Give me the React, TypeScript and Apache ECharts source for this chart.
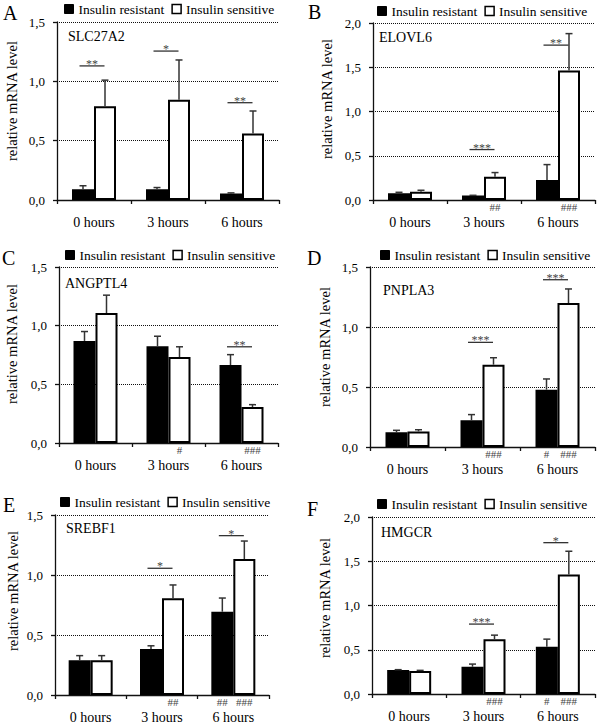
import React, { useEffect, useRef } from "react";
import * as echarts from "echarts";

const categories = ["0 hours", "3 hours", "6 hours"];
const legendNames = ["Insulin resistant", "Insulin sensitive"];
const panelLetters = ["A", "B", "C", "D", "E", "F"];
const geneNames = ["SLC27A2", "ELOVL6", "ANGPTL4", "PNPLA3", "SREBF1", "HMGCR"];
const yMaxes = [1.5, 2.0, 1.5, 1.5, 1.5, 2.0];
const yTickInterval = 0.5;

// means and upper error magnitudes per panel (A..F), per time point
const resistantMeans = [
  [0.09, 0.09, 0.055],
  [0.075, 0.05, 0.225],
  [0.87, 0.824, 0.665],
  [0.122, 0.222, 0.478],
  [0.29, 0.383, 0.694],
  [0.27, 0.308, 0.534],
];
const resistantErrors = [
  [0.03, 0.015, 0.005],
  [0.012, 0.003, 0.175],
  [0.08, 0.086, 0.088],
  [0.017, 0.048, 0.089],
  [0.038, 0.027, 0.114],
  [0.005, 0.03, 0.086],
];
const sensitiveMeans = [
  [0.79, 0.845, 0.56],
  [0.094, 0.264, 1.464],
  [1.108, 0.733, 0.307],
  [0.13, 0.686, 1.2],
  [0.29, 0.806, 1.133],
  [0.259, 0.62, 1.35],
];
const sensitiveErrors = [
  [0.22, 0.335, 0.19],
  [0.016, 0.046, 0.416],
  [0.152, 0.087, 0.02],
  [0.014, 0.058, 0.117],
  [0.038, 0.111, 0.15],
  [0.008, 0.045, 0.263],
];
// significance bars: [category index, bar height, stars]
const significance: [number, number, string][][] = [
  [[0, 1.13, "**"], [1, 1.255, "*"], [2, 0.82, "**"]],
  [[1, 0.57, "***"], [2, 1.75, "**"]],
  [[2, 0.82, "**"]],
  [[1, 0.872, "***"], [2, 1.394, "***"]],
  [[1, 1.056, "*"], [2, 1.328, "*"]],
  [[1, 0.79, "***"], [2, 1.71, "*"]],
];
// hash marks under bars: [category index, group (-1 resistant, 1 sensitive), text]
const hashMarks: [number, number, string][][] = [
  [],
  [[1, 1, "##"], [2, 1, "###"]],
  [[1, 1, "#"], [2, 1, "###"]],
  [[1, 1, "###"], [2, -1, "#"], [2, 1, "###"]],
  [[1, 1, "##"], [2, -1, "##"], [2, 1, "###"]],
  [[1, 1, "###"], [2, -1, "#"], [2, 1, "###"]],
];

// layout (pixels)
const layout = [
  { grid: [57, 22, 222, 178], legend: [64, 2], letter: [3, 12.5], gene: [68, 36], yname: [12, 101] },
  { grid: [373, 23, 222, 177], legend: [377, 4], letter: [308, 11.5], gene: [379, 37], yname: [327, 99] },
  { grid: [59, 267, 219, 176], legend: [65, 248], letter: [2, 258], gene: [65, 283], yname: [12, 344] },
  { grid: [370, 267, 225, 180], legend: [380, 248], letter: [307, 258], gene: [383, 290], yname: [325, 347] },
  { grid: [55, 515, 214, 180], legend: [60, 495], letter: [3, 505], gene: [66, 528], yname: [13, 591] },
  { grid: [372, 517, 223, 177], legend: [377, 497], letter: [307, 509], gene: [381, 532], yname: [325, 598] },
];

const FONT = "Liberation Serif";
const BAR_W = 22;
const CAP = 3.5;

function fmt(v: number) {
  return v.toFixed(1).replace(".", ",");
}

function buildOption() {
  const grid: any[] = [];
  const xAxis: any[] = [];
  const yAxis: any[] = [];
  const legend: any[] = [];
  const series: any[] = [];
  const graphic: any[] = [];

  layout.forEach((L, i) => {
    grid.push({ left: L.grid[0], top: L.grid[1], width: L.grid[2], height: L.grid[3], containLabel: false });
    xAxis.push({
      gridIndex: i,
      type: "category",
      data: categories,
      axisLine: { show: true, lineStyle: { color: "#111", width: 1.3 } },
      axisTick: { show: true, length: 4, lineStyle: { color: "#111", width: 1.3 } },
      axisLabel: { color: "#000", fontFamily: FONT, fontSize: 14, margin: 15 },
      splitLine: { show: false },
    });
    yAxis.push({
      gridIndex: i,
      type: "value",
      min: 0,
      max: yMaxes[i],
      interval: yTickInterval,
      axisLine: { show: true, lineStyle: { color: "#111", width: 1.3 } },
      axisTick: { show: true, length: 4, lineStyle: { color: "#111", width: 1.3 } },
      axisLabel: { color: "#000", fontFamily: FONT, fontSize: 13, margin: 12, formatter: (v: number) => fmt(v) },
      splitLine: { show: true, lineStyle: { color: "#111", type: "dotted", width: 1 } },
    });
    legend.push({
      left: L.legend[0],
      top: L.legend[1],
      padding: 0,
      itemWidth: 9,
      itemHeight: 9,
      itemGap: 7,
      selectedMode: false,
      textStyle: { fontFamily: FONT, fontSize: 13.5, color: "#000" },
      data: [
        { name: legendNames[0], icon: "rect", itemStyle: { color: "#000", borderColor: "#000", borderWidth: 1 } },
        { name: legendNames[1], icon: "rect", itemStyle: { color: "#fff", borderColor: "#000", borderWidth: 1.5 } },
      ],
    });
    series.push({
      name: legendNames[0],
      type: "bar",
      xAxisIndex: i,
      yAxisIndex: i,
      barWidth: BAR_W,
      barGap: "0%",
      data: resistantMeans[i],
      itemStyle: { color: "#000", borderColor: "#000", borderWidth: 2 },
    });
    series.push({
      name: legendNames[1],
      type: "bar",
      xAxisIndex: i,
      yAxisIndex: i,
      barWidth: BAR_W,
      barGap: "0%",
      data: sensitiveMeans[i],
      itemStyle: { color: "#fff", borderColor: "#000", borderWidth: 2 },
    });
    const errData: number[][] = [];
    for (let c = 0; c < categories.length; c++) {
      errData.push([c, resistantMeans[i][c], resistantErrors[i][c], -1]);
      errData.push([c, sensitiveMeans[i][c], sensitiveErrors[i][c], 1]);
    }
    series.push({
      type: "custom",
      xAxisIndex: i,
      yAxisIndex: i,
      clip: false,
      z: 5,
      encode: { x: 0, y: 1 },
      data: errData,
      renderItem: (params: any, api: any) => {
        const cat = api.value(0);
        const mean = api.value(1);
        const err = api.value(2);
        const side = api.value(3);
        const base = api.coord([cat, mean]);
        const top = api.coord([cat, mean + err]);
        const x = base[0] + (side * BAR_W) / 2;
        return {
          type: "group",
          children: [
            { type: "line", shape: { x1: x, y1: base[1], x2: x, y2: top[1] }, style: { stroke: "#333", lineWidth: 1.5 } },
            { type: "line", shape: { x1: x - CAP, y1: top[1], x2: x + CAP, y2: top[1] }, style: { stroke: "#333", lineWidth: 1.5 } },
          ],
        };
      },
    });
    const sig = significance[i];
    series.push({
      type: "custom",
      xAxisIndex: i,
      yAxisIndex: i,
      clip: false,
      z: 6,
      encode: { x: 0, y: 1 },
      data: sig.map((s) => [s[0], s[1]]),
      renderItem: (params: any, api: any) => {
        const p = api.coord([api.value(0), api.value(1)]);
        const cx = p[0] - 2;
        const half = 12.5;
        return {
          type: "group",
          children: [
            { type: "line", shape: { x1: cx - half, y1: p[1], x2: cx + half, y2: p[1] }, style: { stroke: "#333", lineWidth: 1.3 } },
            {
              type: "text",
              x: cx,
              y: p[1] + 4,
              style: { text: sig[params.dataIndex][2], fontFamily: FONT, fontSize: 12, fill: "#444", align: "center", verticalAlign: "bottom" },
            },
          ],
        };
      },
    });
    const hm = hashMarks[i];
    if (hm.length) {
      series.push({
        type: "custom",
        xAxisIndex: i,
        yAxisIndex: i,
        clip: false,
        z: 6,
        encode: { x: 0, y: 1 },
        data: hm.map((h) => [h[0], 0]),
        renderItem: (params: any, api: any) => {
          const p = api.coord([api.value(0), 0]);
          const h = hm[params.dataIndex];
          return {
            type: "text",
            x: p[0] + (h[1] * BAR_W) / 2,
            y: p[1] + 7,
            style: { text: h[2], fontFamily: FONT, fontSize: 11, fill: "#444", align: "center", verticalAlign: "middle" },
          };
        },
      });
    }
    graphic.push({
      type: "text",
      x: L.letter[0],
      y: L.letter[1],
      style: { text: panelLetters[i], fontFamily: FONT, fontSize: 20, fill: "#000", align: "left", verticalAlign: "middle", textAlign: "left", textVerticalAlign: "middle" },
    });
    graphic.push({
      type: "text",
      x: L.gene[0],
      y: L.gene[1],
      style: { text: geneNames[i], fontFamily: FONT, fontSize: 14, fill: "#000", align: "left", verticalAlign: "middle", textAlign: "left", textVerticalAlign: "middle" },
    });
    graphic.push({
      type: "text",
      x: L.yname[0],
      y: L.yname[1],
      rotation: Math.PI / 2,
      style: { text: "relative mRNA level", fontFamily: FONT, fontSize: 14.5, fill: "#000", align: "center", verticalAlign: "middle", textAlign: "center", textVerticalAlign: "middle" },
    });
  });

  return { animation: false, backgroundColor: "#fff", grid, xAxis, yAxis, legend, series, graphic };
}

export default function App() {
  const ref = useRef<HTMLDivElement>(null);
  useEffect(() => {
    if (!ref.current) return;
    const chart = echarts.init(ref.current, undefined, { renderer: "svg" });
    chart.setOption(buildOption() as any);
    return () => chart.dispose();
  }, []);
  return <div ref={ref} style={{ position: "absolute", left: 0, top: 0, width: 600, height: 724 }} />;
}
